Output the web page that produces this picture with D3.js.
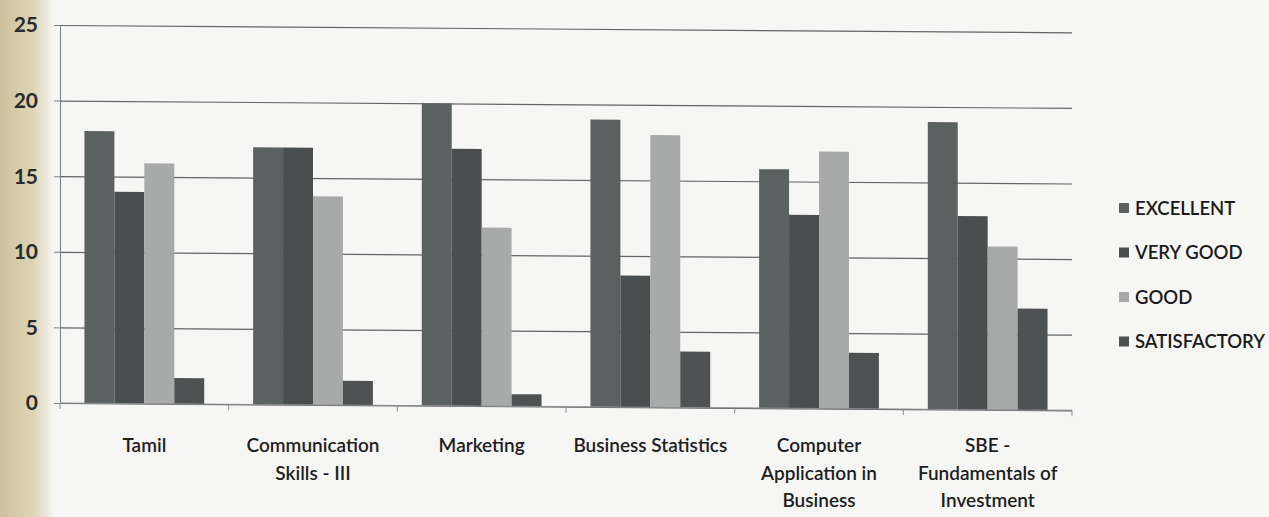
<!DOCTYPE html>
<html>
<head>
<meta charset="utf-8">
<script src="https://cdn.jsdelivr.net/npm/d3@7"></script>
<style>
  html, body { margin: 0; padding: 0; background: #f6f6f4; }
  svg { display: block; }
</style>
</head>
<body>
<svg id="chart" width="1269" height="517"></svg>
<script>
// ---- data ----
const categories = ["Tamil", "Communication Skills - III", "Marketing", "Business Statistics", "Computer Application in Business", "SBE - Fundamentals of Investment"];
const categoryLines = [["Tamil"], ["Communication", "Skills - III"], ["Marketing"], ["Business Statistics"], ["Computer", "Application in", "Business"], ["SBE -", "Fundamentals of", "Investment"]];
const seriesNames = ["EXCELLENT", "VERY GOOD", "GOOD", "SATISFACTORY"];
const excellent = [18, 17, 20, 19, 15.8, 19];
const veryGood = [14, 17, 17, 8.7, 12.8, 12.8];
const good = [15.9, 13.8, 11.8, 18, 17, 10.8];
const satisfactory = [1.7, 1.6, 0.8, 3.7, 3.7, 6.7];
const yTicks = [0, 5, 10, 15, 20, 25];
const seriesColors = ["#5b6060", "#4a4e4f", "#a8aaa9", "#4e5253"];

(function () {
const seriesValues = [excellent, veryGood, good, satisfactory];
const table = categories.map((c, i) => ({ cat: c, vals: seriesValues.map((s, j) => ({ key: seriesNames[j], value: s[i] })) }));

const svg = d3.select("#chart");
const font = "Lato, 'Open Sans', sans-serif";

// paper edge
const defs = svg.append("defs");
const grad = defs.append("linearGradient").attr("id", "edge").attr("x1", "0").attr("x2", "1").attr("y1", "0").attr("y2", "0");
grad.append("stop").attr("offset", "0").attr("stop-color", "#cdc29c");
grad.append("stop").attr("offset", "0.6").attr("stop-color", "#ddd4b6");
grad.append("stop").attr("offset", "0.85").attr("stop-color", "#ebe7da");
grad.append("stop").attr("offset", "1").attr("stop-color", "#f6f6f4");
svg.append("rect").attr("x", 0).attr("y", 0).attr("width", 54).attr("height", 517).attr("fill", "url(#edge)");

const pLeft = 60, pRight = 1072, pTop = 25, pBottom = 403;

const x0 = d3.scaleBand().domain(categories).range([pLeft, pRight]).paddingInner(0.29).paddingOuter(0.145);
const x1 = d3.scaleBand().domain(seriesNames).range([0, x0.bandwidth()]).padding(0);
const y = d3.scaleLinear().domain([0, 25]).range([pBottom, pTop]);

// slight photo tilt
const plot = svg.append("g").attr("transform", `matrix(1, 0.0072, 0, 1, 0, ${-0.0072 * pLeft})`);

// gridlines
plot.append("g")
  .attr("transform", `translate(${pLeft},0)`)
  .call(d3.axisLeft(y).tickValues(yTicks).tickSize(-(pRight - pLeft)).tickFormat(""))
  .call(g => g.select(".domain").remove())
  .call(g => g.selectAll(".tick line").attr("stroke", "#626466").attr("stroke-width", 1.2));

// left axis line with small ticks
plot.append("g")
  .attr("transform", `translate(${pLeft},0)`)
  .call(d3.axisLeft(y).tickValues(yTicks).tickSize(6).tickFormat(""))
  .call(g => g.select(".domain").attr("stroke", "#7a7e88"))
  .call(g => g.selectAll(".tick line").attr("stroke", "#7a7e88"));

// bars
plot.append("g").selectAll("g")
  .data(table).join("g")
  .attr("transform", d => `translate(${x0(d.cat)},0)`)
  .selectAll("rect")
  .data(d => d.vals).join("rect")
  .attr("x", d => x1(d.key))
  .attr("width", x1.bandwidth())
  .attr("y", d => y(d.value))
  .attr("height", d => y(0) - y(d.value))
  .attr("fill", (d, i) => seriesColors[i]);

// x axis with boundary ticks
const xAxis = plot.append("g").attr("transform", `translate(0,${pBottom})`);
xAxis.append("line").attr("x1", pLeft).attr("x2", pRight).attr("y1", 0).attr("y2", 0).attr("stroke", "#8a8c90");
const step = x0.step();
const boundaries = d3.range(categories.length + 1).map(i => x0(categories[0]) - x0.paddingOuter() * step + i * step);
xAxis.selectAll("line.tk").data(boundaries).join("line").attr("class", "tk")
  .attr("x1", d => d).attr("x2", d => d).attr("y1", 0).attr("y2", 6).attr("stroke", "#8a8c90");

// y tick labels
svg.append("g").selectAll("text")
  .data(yTicks).join("text")
  .attr("x", 38)
  .attr("y", d => y(d))
  .attr("dy", "0.35em")
  .attr("text-anchor", "end")
  .attr("font-family", font)
  .attr("font-size", 21)
  .attr("font-weight", 700)
  .attr("fill", "#2a2a2a")
  .text(d => d);

// category labels
const lab = svg.append("g").selectAll("text")
  .data(categories).join("text")
  .attr("text-anchor", "middle")
  .attr("font-family", font)
  .attr("font-size", 19)
  .attr("font-weight", 600)
  .attr("fill", "#1e1e1e")
  .attr("transform", d => `translate(${x0(d) + x0.bandwidth() / 2},${452})`);
lab.each(function(d, i) {
  d3.select(this).selectAll("tspan").data(categoryLines[i]).join("tspan")
    .attr("x", 0).attr("y", (t, k) => k * 27.5).text(t => t);
});

// legend
const legend = svg.append("g").attr("transform", "translate(1119,208)");
const li = legend.selectAll("g").data(seriesNames).join("g")
  .attr("transform", (d, i) => `translate(0,${i * 44.5})`);
li.append("rect").attr("x", 0).attr("y", -5).attr("width", 10).attr("height", 10)
  .attr("fill", (d, i) => seriesColors[i]);
li.append("text").attr("x", 16).attr("y", 0).attr("dy", "0.36em")
  .attr("font-family", font).attr("font-size", 18.5).attr("font-weight", 600).attr("fill", "#1a1a1a")
  .text(d => d);
})();
</script>
</body>
</html>
